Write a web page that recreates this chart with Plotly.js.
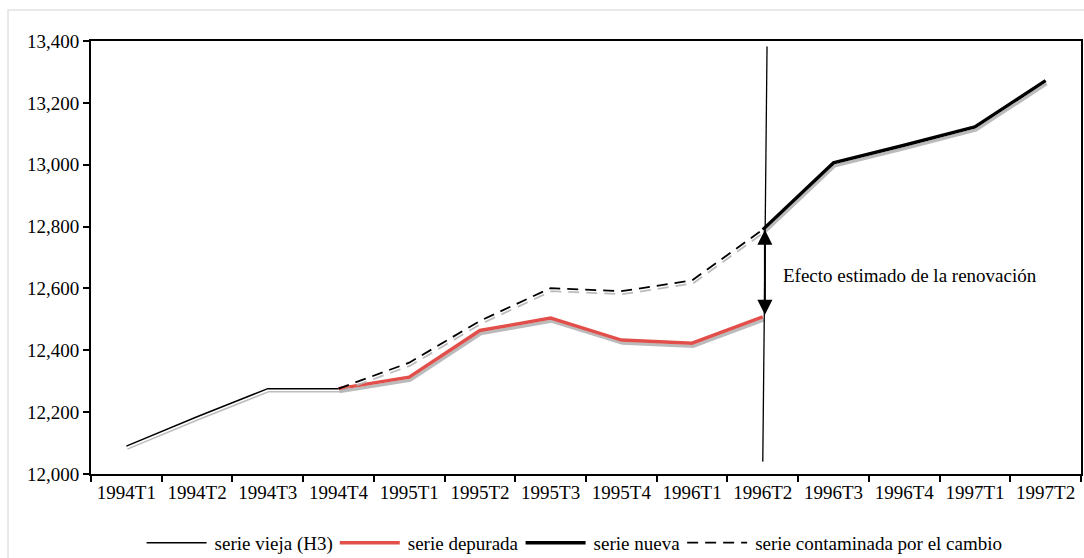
<!DOCTYPE html>
<html>
<head>
<meta charset="utf-8">
<script src="https://cdn.plot.ly/plotly-3.0.1.min.js"></script>
<style>
html,body{margin:0;padding:0;background:#fff;}
#chart{width:1084px;height:558px;}
</style>
</head>
<body>
<svg width="0" height="0" style="position:absolute">
  <defs>
    <filter id="sh" filterUnits="userSpaceOnUse" x="-2000" y="-2000" width="6000" height="6000">
      <feDropShadow dx="1" dy="3" stdDeviation="0.7" flood-color="#b4b4b4" flood-opacity="0.9"/>
    </filter>
  </defs>
</svg>
<div id="chart"></div>
<script>
var categories = ['1994T1','1994T2','1994T3','1994T4','1995T1','1995T2','1995T3','1995T4','1996T1','1996T2','1996T3','1996T4','1997T1','1997T2'];

var vieja_x = ['1994T1','1994T2','1994T3','1994T4'];
var vieja_y = [12090, 12185, 12276, 12276];

var depurada_x = ['1994T4','1995T1','1995T2','1995T3','1995T4','1996T1','1996T2'];
var depurada_y = [12276, 12313, 12464, 12504, 12433, 12423, 12508];

var nueva_x = ['1996T2','1996T3','1996T4','1997T1','1997T2'];
var nueva_y = [12790, 13006, 13063, 13122, 13272];

var contaminada_x = ['1994T4','1995T1','1995T2','1995T3','1995T4','1996T1','1996T2'];
var contaminada_y = [12276, 12360, 12495, 12601, 12591, 12626, 12790];

var effectLabel = 'Efecto estimado de la renovación';
var yTicks = [12000, 12200, 12400, 12600, 12800, 13000, 13200, 13400];

var FONT = 'Liberation Serif, Times New Roman, serif';
var FS = 19;

var traces = [
  {x: vieja_x, y: vieja_y, name: 'serie vieja (H3)', mode: 'lines',
   line: {color: '#000', width: 1.5}},
  {x: depurada_x, y: depurada_y, name: 'serie depurada', mode: 'lines',
   line: {color: '#e2504b', width: 3.5}},
  {x: nueva_x, y: nueva_y, name: 'serie nueva', mode: 'lines',
   line: {color: '#000', width: 3.5}},
  {x: contaminada_x, y: contaminada_y, name: 'serie contaminada por el cambio', mode: 'lines',
   line: {color: '#000', width: 1.8, dash: '11px,7px'}}
];

var layout = {
  width: 1084, height: 558,
  margin: {l: 91, r: 3, t: 41, b: 84, autoexpand: false},
  paper_bgcolor: '#fff', plot_bgcolor: '#fff',
  font: {family: FONT, size: FS, color: '#000'},
  showlegend: true,
  legend: {orientation: 'h', x: 0.49, xanchor: 'center', y: -0.159, yanchor: 'middle',
           font: {family: FONT, size: FS, color: '#000'}, itemwidth: 60, traceorder: 'normal',
           itemclick: false},
  xaxis: {
    type: 'category', categoryorder: 'array', categoryarray: categories,
    range: [-0.5, 13.5], tickson: 'boundaries',
    showline: true, linecolor: '#000', linewidth: 2, mirror: true,
    ticks: 'outside', ticklen: 6, tickwidth: 2, tickcolor: '#000',
    showgrid: false, zeroline: false,
    tickfont: {family: FONT, size: FS, color: '#000'}
  },
  yaxis: {
    range: [12000, 13400], tickvals: yTicks, tickformat: ',d',
    showline: true, linecolor: '#000', linewidth: 2, mirror: true,
    ticks: 'outside', ticklen: 6, tickwidth: 2, tickcolor: '#000',
    showgrid: false, zeroline: false,
    tickfont: {family: FONT, size: FS, color: '#000'}
  },
  shapes: [
    {type: 'rect', xref: 'paper', yref: 'paper', x0: -0.0838, x1: 1.05, y0: -0.3, y1: 1.0716,
     line: {color: '#e2e2e2', width: 1.5}, layer: 'below'},
    {type: 'line', xref: 'x', yref: 'y', x0: 9.06, x1: 9.0, y0: 13382, y1: 12040,
     line: {color: '#000', width: 1.3}}
  ],
  annotations: [
    {x: 9.03, y: 12790, ax: 9.03, ay: 12510, xref: 'x', yref: 'y', axref: 'x', ayref: 'y',
     text: '', showarrow: true, arrowside: 'end+start', arrowhead: 2, startarrowhead: 2,
     arrowsize: 1.5, startarrowsize: 1.5, arrowwidth: 2, arrowcolor: '#000', standoff: 0, startstandoff: 0},
    {x: 9, y: 12643, xref: 'x', yref: 'y', text: effectLabel, showarrow: false,
     xanchor: 'left', yanchor: 'middle', xshift: 18,
     font: {family: FONT, size: FS, color: '#000'}}
  ]
};

Plotly.newPlot('chart', traces, layout, {displayModeBar: false, staticPlot: true}).then(function(gd){
  gd.querySelectorAll('.scatterlayer .js-line').forEach(function(p){ p.style.filter = 'url(#sh)'; });
  gd.querySelectorAll('.legend .legendlines path').forEach(function(p){ p.setAttribute('d', 'M2,0h60'); });
});
</script>
</body>
</html>
